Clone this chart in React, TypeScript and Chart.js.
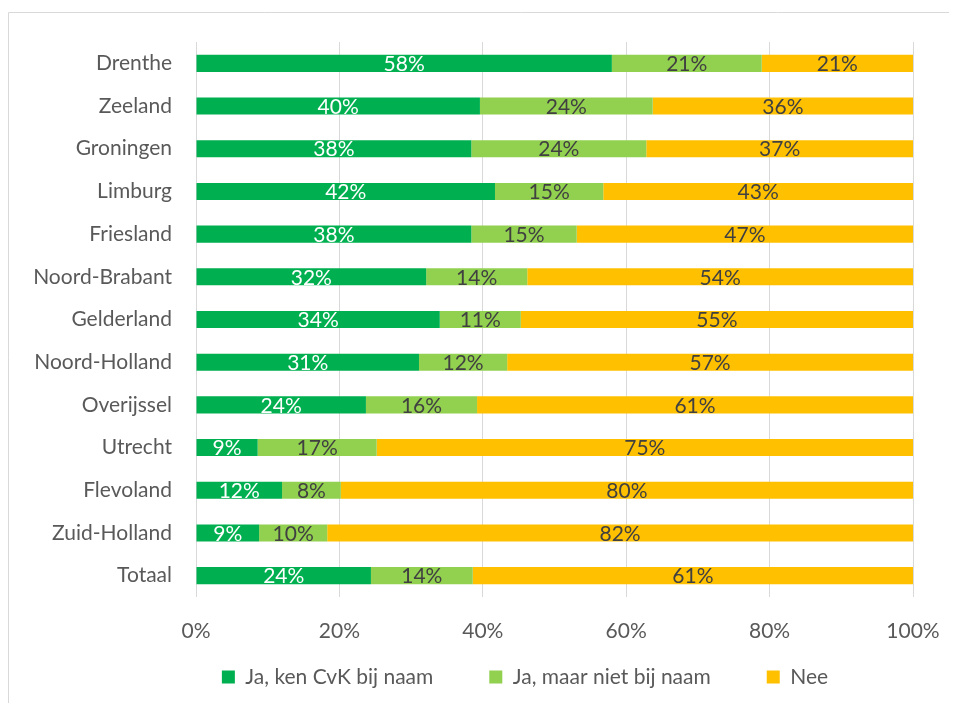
import { useEffect, useRef } from 'react';
import { Chart, registerables } from 'chart.js';

Chart.register(...registerables);

const categories = [
  'Drenthe', 'Zeeland', 'Groningen', 'Limburg', 'Friesland', 'Noord-Brabant',
  'Gelderland', 'Noord-Holland', 'Overijssel', 'Utrecht', 'Flevoland', 'Zuid-Holland', 'Totaal',
];
const jaKen = [58.0, 39.6, 38.4, 41.7, 38.4, 32.1, 34.0, 31.1, 23.7, 8.6, 12.0, 8.8, 24.4];
const jaNiet = [20.9, 24.1, 24.4, 15.1, 14.7, 14.1, 11.3, 12.3, 15.5, 16.6, 8.2, 9.5, 14.2];
const nee = [21.1, 36.3, 37.2, 43.2, 46.9, 53.8, 54.7, 56.6, 60.8, 74.8, 79.8, 81.7, 61.4];
const seriesLabels = ['Ja, ken CvK bij naam', 'Ja, maar niet bij naam', 'Nee'];
const seriesColors = ['#00B050', '#92D050', '#FFC000'];
const labelColors = ['#FFFFFF', '#404040', '#404040'];
const xMin = 0;
const xMax = 100;
const xStep = 20;

const FONT = 'Lato, "Open Sans", sans-serif';
const FONT_SIZE = 21;

const dataLabelPlugin = {
  id: 'dataLabels',
  afterDatasetsDraw(chart: any) {
    const ctx = chart.ctx;
    ctx.save();
    ctx.font = `${FONT_SIZE}px ${FONT}`;
    ctx.textAlign = 'center';
    ctx.textBaseline = 'middle';
    chart.data.datasets.forEach((ds: any, di: number) => {
      const meta = chart.getDatasetMeta(di);
      meta.data.forEach((bar: any, i: number) => {
        const v = ds.data[i];
        const x = (bar.x + bar.base) / 2;
        ctx.fillStyle = labelColors[di];
        ctx.fillText(`${Math.round(v)}%`, x, bar.y + 1);
      });
    });
    ctx.restore();
  },
};

const borderPlugin = {
  id: 'outerBorder',
  beforeDraw(chart: any) {
    const ctx = chart.ctx;
    ctx.save();
    ctx.strokeStyle = '#D9D9D9';
    ctx.lineWidth = 1;
    ctx.beginPath();
    ctx.moveTo(0.5, chart.height);
    ctx.lineTo(0.5, 4.5);
    ctx.lineTo(chart.width, 4.5);
    ctx.stroke();
    ctx.restore();
  },
};

export default function App() {
  const ref = useRef<HTMLCanvasElement>(null);

  useEffect(() => {
    document.body.style.overflow = 'hidden';
    document.documentElement.style.overflow = 'hidden';
    const canvas = ref.current;
    if (!canvas) return;
    const chart = new Chart(canvas, {
      type: 'bar',
      data: {
        labels: categories,
        datasets: [jaKen, jaNiet, nee].map((d, i) => ({
          label: seriesLabels[i],
          data: d,
          backgroundColor: seriesColors[i],
          borderWidth: 0,
          categoryPercentage: 0.4,
          barPercentage: 1,
        })),
      },
      options: {
        indexAxis: 'y',
        responsive: false,
        animation: false,
        layout: { padding: { left: 8, right: 0, top: 34, bottom: 5.5 } },
        scales: {
          x: {
            stacked: true,
            min: xMin,
            max: xMax,
            grid: { color: '#D9D9D9', drawTicks: false, lineWidth: 1 },
            border: { display: false },
            ticks: {
              stepSize: xStep,
              mirror: true,
              padding: -46.6,
              color: '#595959',
              font: { family: FONT, size: FONT_SIZE },
              callback: (v: any) => `${v}%`,
            },
            afterFit: (s: any) => { s.height = 13.5; },
          },
          y: {
            stacked: true,
            grid: { display: false, drawTicks: false },
            border: { display: false },
            ticks: {
              padding: 24,
              color: '#595959',
              font: { family: FONT, size: FONT_SIZE },
              autoSkip: false,
            },
            afterFit: (s: any) => {
              s.width = 180;
              s.paddingTop = 0;
              s.paddingBottom = 0;
            },
          },
          yRight: {
            type: 'linear',
            position: 'right',
            display: true,
            grid: { display: false, drawTicks: false },
            border: { display: false },
            ticks: { display: false },
            afterFit: (s: any) => {
              s.width = 121;
              s.paddingTop = 0;
              s.paddingBottom = 0;
            },
          },
        },
        plugins: {
          legend: {
            position: 'bottom',
            labels: {
              boxWidth: 13,
              boxHeight: 13,
              padding: 56,
              color: '#595959',
              font: { family: FONT, size: FONT_SIZE },
            },
          },
          tooltip: { enabled: false },
        },
      },
      plugins: [dataLabelPlugin, borderPlugin],
    });
    return () => chart.destroy();
  }, []);

  return <canvas ref={ref} width={1026} height={695} style={{ display: 'block' }} />;
}
